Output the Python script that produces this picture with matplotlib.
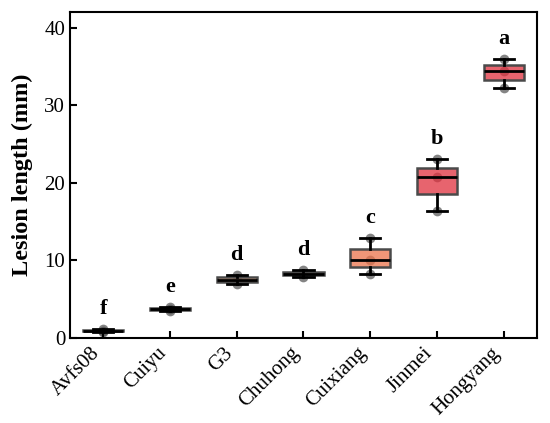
import matplotlib
matplotlib.use("Agg")
import matplotlib.pyplot as plt
import numpy as np

categories = ["Avfs08", "Cuiyu", "G3", "Chuhong", "Cuixiang", "Jinmei", "Hongyang"]
values = [
    [0.8, 0.95, 1.1],
    [3.5, 3.8, 4.0],
    [7.0, 7.5, 8.1],
    [7.9, 8.3, 8.8],
    [8.3, 10.1, 12.9],
    [16.4, 20.8, 23.1],
    [32.2, 34.4, 35.9],
]
letters = ["f", "e", "d", "d", "c", "b", "a"]
fill_colors = ["#f7c9a0", "#f5b08a", "#f09a6a", "#ec8a66", "#eb734b", "#e0303e", "#e0303e"]

plt.rcParams['font.family'] = ['Liberation Serif', 'DejaVu Serif']

fig = plt.figure(figsize=(5.5, 4.23), dpi=100)
ax = fig.add_axes([70/550, 1 - 338/423, 467/550, 326/423])

pos = np.arange(len(categories))

# points under the boxes
for i, vals in enumerate(values):
    ax.plot([pos[i]] * len(vals), vals, 'o', color='#505050', alpha=0.7,
            markersize=7, markeredgewidth=0, zorder=1)

bp = ax.boxplot(values, positions=pos, widths=0.6, patch_artist=True,
                whis=1.5, showfliers=False,
                medianprops=dict(color='black', linewidth=2),
                whiskerprops=dict(color='black', linewidth=2),
                capprops=dict(color='black', linewidth=2),
                boxprops=dict(edgecolor='#4a4a4a', linewidth=1.8))
for patch, c in zip(bp['boxes'], fill_colors):
    patch.set_facecolor(matplotlib.colors.to_rgba(c, 0.75))
    patch.set_zorder(2)
for k in ['medians', 'whiskers', 'caps']:
    for l in bp[k]:
        l.set_zorder(3)

for i, vals in enumerate(values):
    ax.text(pos[i], max(vals) + 2.6, letters[i], ha='center', va='center',
            fontsize=16, fontweight='bold')

ax.set_xlim(-0.5, len(categories) - 0.5)
ax.set_ylim(0, 42)
ax.set_yticks([0, 10, 20, 30, 40])
ax.set_xticks(pos)
ax.set_xticklabels(categories, rotation=45, ha='right', fontsize=15)
ax.tick_params(axis='both', direction='in', length=5, width=1.5, labelsize=15)
ax.tick_params(axis='x', pad=4)
ax.set_ylabel("Lesion length (mm)", fontsize=17.5, fontweight='bold', labelpad=8)
for s in ax.spines.values():
    s.set_linewidth(1.5)

fig.savefig("out.png", dpi=100)
